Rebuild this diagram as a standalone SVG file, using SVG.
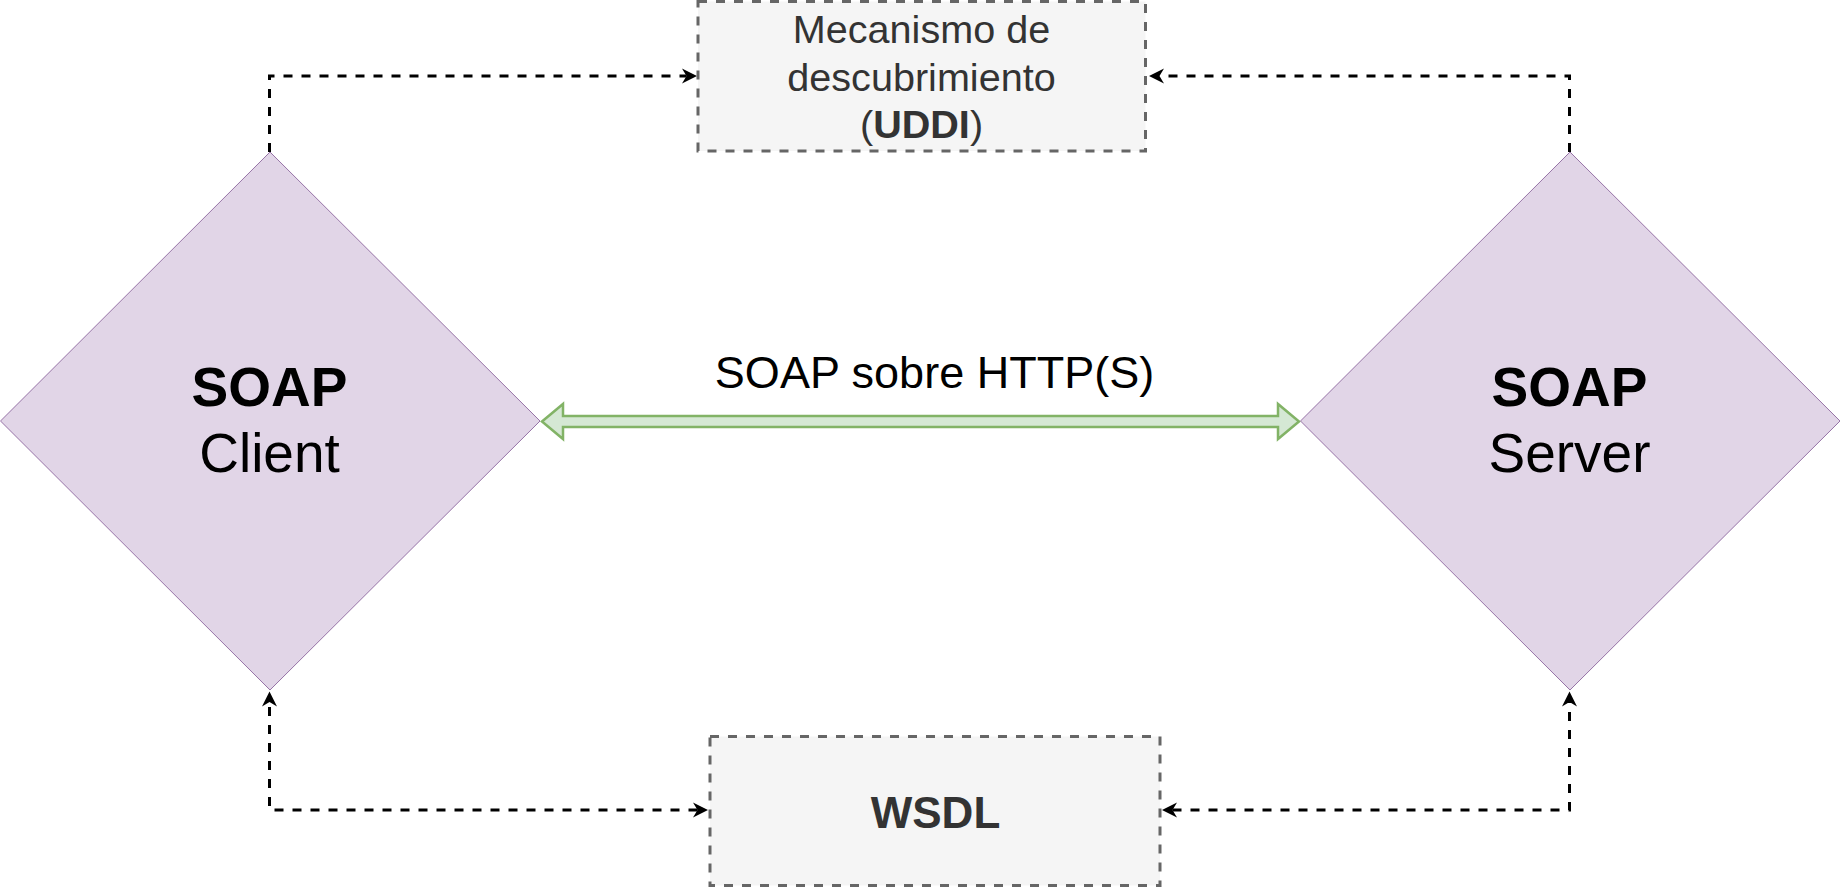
<svg xmlns="http://www.w3.org/2000/svg" width="1841" height="888" viewBox="0 0 1841 888">
  <style>
    .diamond { fill: #e1d5e7; stroke: #9673a6; stroke-width: 1; }
    .box { fill: #f5f5f5; stroke: #666666; stroke-width: 3; stroke-dasharray: 9 9; }
    .conn { fill: none; stroke: #000000; stroke-width: 3; stroke-dasharray: 9 9; }
    .t { font-family: "Liberation Sans", Arial, Helvetica, sans-serif; text-anchor: middle; }
    .node-label { font-size: 55px; fill: #000000; }
    .box-label { font-size: 39.6px; fill: #333333; }
    .b { font-weight: bold; }
    .flex { fill: #d5e8d4; stroke: #82b366; stroke-width: 2.5; stroke-linejoin: miter; }
  </style>
  <defs>
    <marker id="arrow" viewBox="0 0 16 16" refX="4.5" refY="8" markerWidth="16" markerHeight="16" markerUnits="userSpaceOnUse" orient="auto-start-reverse">
      <path d="M15,8 L0,0.5 L4.5,8 L0,15.5 Z" fill="#000000"/>
    </marker>
  </defs>

  <g id="connectors">
    <path class="conn" d="M269.5,152 V76 H686.5" marker-end="url(#arrow)"/>
    <path class="conn" d="M1569.5,152 V76 H1159.5" marker-end="url(#arrow)"/>
    <path class="conn" d="M697.5,810 H269.5 V702" marker-start="url(#arrow)" marker-end="url(#arrow)"/>
    <path class="conn" d="M1172.5,810 H1569.5 V702" marker-start="url(#arrow)" marker-end="url(#arrow)"/>
    <g id="soap-http">
      <path class="flex" d="M542,421.5 L563,404 L563,416 L1278,416 L1278,404 L1299,421.5 L1278,439 L1278,427 L563,427 L563,439 Z"/>
      <text class="t" x="934.5" y="388" font-size="45" fill="#000000">SOAP sobre HTTP(S)</text>
    </g>
  </g>

  <g id="uddi">
    <rect class="box" x="698" y="1.5" width="447.5" height="149.5"/>
    <text class="t box-label" x="921.5" y="43.3">Mecanismo de</text>
    <text class="t box-label" x="921.5" y="90.7">descubrimiento</text>
    <text class="t box-label" x="921.5" y="138">(<tspan class="b">UDDI</tspan>)</text>
  </g>

  <g id="wsdl">
    <rect class="box" x="710" y="736.5" width="450" height="149"/>
    <text class="t b" x="935.5" y="827.5" font-size="44" fill="#333333">WSDL</text>
  </g>

  <g id="soap-client">
    <polygon class="diamond" points="270,152 540,421 270,690 0.5,421"/>
    <text class="t node-label b" x="269.5" y="406">SOAP</text>
    <text class="t node-label" x="269.5" y="472">Client</text>
  </g>

  <g id="soap-server">
    <polygon class="diamond" points="1570,152 1840,421 1570,690 1300.5,421"/>
    <text class="t node-label b" x="1569.5" y="406">SOAP</text>
    <text class="t node-label" x="1569.5" y="472">Server</text>
  </g>
</svg>
